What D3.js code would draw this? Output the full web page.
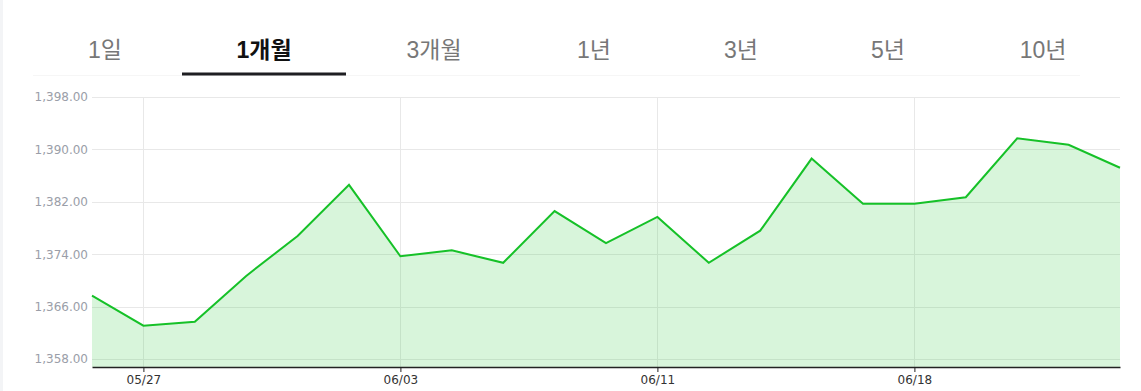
<!DOCTYPE html>
<html>
<head>
<meta charset="utf-8">
<script src="https://cdn.jsdelivr.net/npm/d3@7"></script>
<style>
  body { margin: 0; background: #fff; }
  svg { display: block; }
</style>
</head>
<body>
<div id="chart"></div>
<script>
var width = 1141, height = 391;
var margin = {top: 97, right: 21, bottom: 24, left: 92};

// tabs
var tabs = ["1일", "1개월", "3개월", "1년", "3년", "5년", "10년"];
var tabX = [105, 264, 434, 594, 741, 888, 1043];
var activeTab = "1개월";

// data (closing values, trading days)
var dates = ["05/26", "05/27", "05/28", "05/29", "05/30", "06/02", "06/03",
             "06/04", "06/05", "06/09", "06/10", "06/11", "06/12", "06/13",
             "06/16", "06/17", "06/18", "06/19", "06/20", "06/23", "06/24"];
var values = [1367.7, 1363.1, 1363.7, 1370.7, 1376.8, 1384.6, 1373.7,
              1374.6, 1372.7, 1380.6, 1375.7, 1379.7, 1372.7, 1377.6,
              1388.6, 1381.7, 1381.7, 1382.7, 1391.7, 1390.7, 1387.2];
var xTicks = ["05/27", "06/03", "06/11", "06/18"];
var yTicks = [1358, 1366, 1374, 1382, 1390, 1398];

var svg = d3.select("#chart").append("svg")
    .attr("width", width)
    .attr("height", height);

// left light strip
svg.append("rect").attr("x", 0).attr("y", 0).attr("width", 3).attr("height", height)
    .attr("fill", "#f3f4f6");

// tab row
svg.append("line")
    .attr("x1", 33).attr("x2", 1080)
    .attr("y1", 75.5).attr("y2", 75.5)
    .attr("stroke", "#f6f6f6");

svg.selectAll("text.tab")
    .data(tabs)
  .enter().append("text")
    .attr("class", "tab")
    .attr("x", function(d, i) { return tabX[i]; })
    .attr("y", 58)
    .attr("text-anchor", "middle")
    .style("font-family", "Arial, 'Liberation Sans', 'Noto Sans CJK KR', sans-serif")
    .style("font-size", "23px")
    .style("font-weight", function(d) { return d == activeTab ? "bold" : "normal"; })
    .style("fill", function(d) { return d == activeTab ? "#111" : "#777"; })
    .text(function(d) { return d; });

svg.append("rect")
    .attr("x", 182).attr("y", 72.5)
    .attr("width", 164).attr("height", 3)
    .attr("fill", "#1e1e22");

var w = width - margin.left - margin.right,
    h = height - margin.top - margin.bottom;

var g = svg.append("g")
    .attr("transform", "translate(" + margin.left + "," + margin.top + ")");

var xScale = d3.scalePoint()
    .domain(dates)
    .range([0, w]);

var yScale = d3.scaleLinear()
    .domain([1356.8, 1398])
    .range([h, 0]);

// grid
g.selectAll("line.hgrid")
    .data(yTicks)
  .enter().append("line")
    .attr("class", "hgrid")
    .attr("x1", 0).attr("x2", w)
    .attr("y1", function(d) { return Math.round(yScale(d)) + 0.5; })
    .attr("y2", function(d) { return Math.round(yScale(d)) + 0.5; })
    .attr("stroke", "#e8e8e8");

g.selectAll("line.vgrid")
    .data(xTicks)
  .enter().append("line")
    .attr("class", "vgrid")
    .attr("x1", function(d) { return Math.round(xScale(d)) + 0.5; })
    .attr("x2", function(d) { return Math.round(xScale(d)) + 0.5; })
    .attr("y1", 0).attr("y2", h)
    .attr("stroke", "#e8e8e8");

// area + line
var area = d3.area()
    .x(function(d, i) { return xScale(dates[i]); })
    .y0(h)
    .y1(function(d) { return yScale(d); });

var line = d3.line()
    .x(function(d, i) { return xScale(dates[i]); })
    .y(function(d) { return yScale(d); });

g.append("path")
    .datum(values)
    .attr("d", area)
    .attr("fill", "rgba(25,193,42,0.17)");

g.append("path")
    .datum(values)
    .attr("d", line)
    .attr("fill", "none")
    .attr("stroke", "#16c128")
    .attr("stroke-width", 2)
    .attr("stroke-linejoin", "miter");

// y labels
var yAxis = d3.axisLeft(yScale)
    .tickValues(yTicks)
    .tickSize(0)
    .tickPadding(4)
    .tickFormat(d3.format(",.2f"));

var gy = g.append("g").call(yAxis);
gy.select(".domain").remove();
gy.selectAll("text")
    .style("font-family", "'DejaVu Sans', Verdana, sans-serif")
    .style("font-size", "12px")
    .style("fill", "#9a9ea8");

// x axis
var xAxis = d3.axisBottom(xScale)
    .tickValues(xTicks)
    .tickSize(5)
    .tickSizeOuter(0)
    .tickPadding(3);

var gx = g.append("g")
    .attr("transform", "translate(0," + h + ")")
    .call(xAxis);
gx.select(".domain").attr("stroke", "#222").attr("stroke-width", 1.5);
gx.selectAll(".tick line").attr("stroke", "#222");
gx.selectAll("text")
    .style("font-family", "'DejaVu Sans', Verdana, sans-serif")
    .style("font-size", "12px")
    .style("fill", "#333");
</script>
</body>
</html>
